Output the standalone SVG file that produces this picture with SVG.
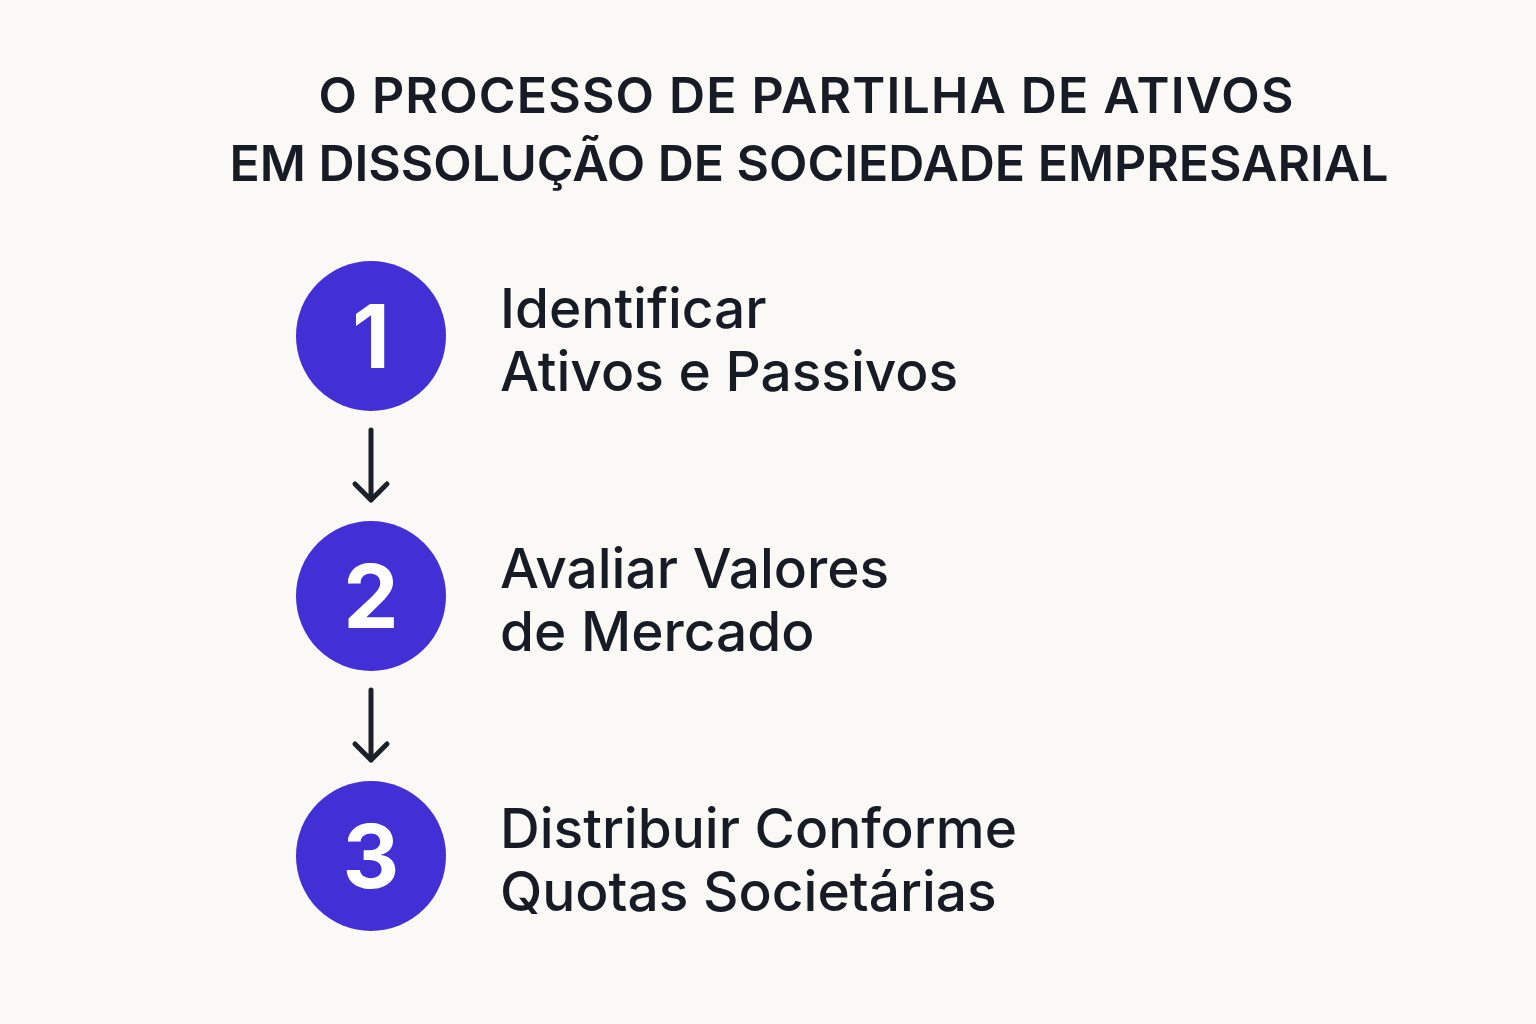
<svg xmlns="http://www.w3.org/2000/svg" width="1536" height="1024" viewBox="0 0 1536 1024">
<style>
.title{font-family:Inter,"Noto Sans",sans-serif;font-weight:600;font-size:50px;fill:#161b26;text-anchor:middle}
.num{font-family:Inter,"Noto Sans",sans-serif;font-weight:700;font-size:88px;fill:#ffffff;text-anchor:middle}
.lbl{font-family:Inter,"Noto Sans",sans-serif;font-weight:500;font-size:55px;fill:#161b26}
.circ{fill:#432fd6}
.conn{stroke:#1b212b;stroke-width:5;fill:none;stroke-linecap:round;stroke-linejoin:round}
</style>
<rect width="1536" height="1024" fill="#faf9f6"/>
<text class="title" x="806" y="113" textLength="975" lengthAdjust="spacing">O PROCESSO DE PARTILHA DE ATIVOS</text>
<text class="title" x="809" y="181" textLength="1159" lengthAdjust="spacing">EM DISSOLUÇÃO DE SOCIEDADE EMPRESARIAL</text>
<g id="connectors">
<path class="conn" d="M371 430 V500 M355 484 L371 500 L387 484"/>
<path class="conn" d="M371 690 V760 M355 744 L371 760 L387 744"/>
</g>
<g id="step1">
<circle class="circ" cx="371" cy="336" r="75"/>
<text class="num" x="371" y="368">1</text>
<text class="lbl" x="500" y="328">Identificar</text>
<text class="lbl" x="500" y="391">Ativos e Passivos</text>
</g>
<g id="step2">
<circle class="circ" cx="371" cy="596" r="75"/>
<text class="num" x="371" y="628">2</text>
<text class="lbl" x="500" y="588">Avaliar Valores</text>
<text class="lbl" x="500" y="651">de Mercado</text>
</g>
<g id="step3">
<circle class="circ" cx="371" cy="856" r="75"/>
<text class="num" x="371" y="888">3</text>
<text class="lbl" x="500" y="848">Distribuir Conforme</text>
<text class="lbl" x="500" y="911">Quotas Societárias</text>
</g>
</svg>
